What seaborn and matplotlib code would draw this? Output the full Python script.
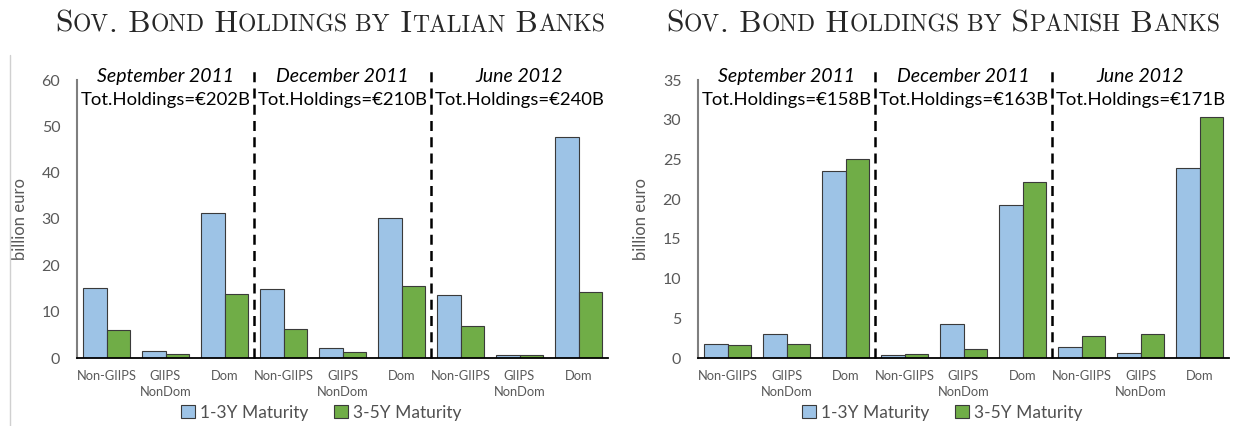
import pandas as pd
import matplotlib.pyplot as plt
import seaborn as sns
from matplotlib.offsetbox import TextArea, HPacker, AnnotationBbox
from matplotlib.patches import Patch
from matplotlib.lines import Line2D

# === DATOS ===
periods = ['September 2011', 'December 2011', 'June 2012']
sectors = ['Non-GIIPS', 'GIIPS\nNonDom', 'Dom']
maturities = ['1-3Y Maturity', '3-5Y Maturity']

italy_short = [15.1, 1.5, 31.4, 14.9, 2.2, 30.3, 13.5, 0.65, 47.7]
italy_long = [6.1, 0.9, 13.8, 6.3, 1.4, 15.5, 6.9, 0.6, 14.2]
italy_totals = ['€202B', '€210B', '€240B']

spain_short = [1.75, 3.0, 23.5, 0.37, 4.33, 19.25, 1.4, 0.62, 23.9]
spain_long = [1.6, 1.7, 25.1, 0.5, 1.08, 22.2, 2.8, 3.0, 30.3]
spain_totals = ['€158B', '€163B', '€171B']

blue = '#9DC3E6'
green = '#70AD47'
gray_txt = '#595959'

sns.set_style('white')
plt.rcParams['font.family'] = ['Lato', 'DejaVu Sans']


def small_caps(fig, x, y, text, big=22.7, small=17.0):
    # texto en versalitas: mayusculas grandes, minusculas en mayuscula pequeña
    sizes = []
    for i, ch in enumerate(text):
        if ch == ' ':
            nxt = text[i + 1] if i + 1 < len(text) else 'A'
            sizes.append(small if nxt.islower() else big)
        else:
            sizes.append(small if ch.islower() else big)
    boxes = []
    run, cur = '', None
    for ch, sz in zip(text, sizes):
        if run and sz != cur:
            boxes.append(TextArea(run.upper(), textprops=dict(fontsize=cur, family='cmr10')))
            run = ''
        run += ch
        cur = sz
    boxes.append(TextArea(run.upper(), textprops=dict(fontsize=cur, family='cmr10')))
    pack = HPacker(children=boxes, align='baseline', pad=0, sep=0)
    ab = AnnotationBbox(pack, (x, y), xycoords='figure fraction', frameon=False,
                        box_alignment=(0.5, 0.5), pad=0)
    fig.add_artist(ab)


def panel(ax, short, long, totals, ymax, ystep):
    slots = [f'{p}|{s}' for p in periods for s in sectors]
    df = pd.DataFrame({
        'slot': slots * 2,
        'maturity': [maturities[0]] * 9 + [maturities[1]] * 9,
        'value': short + long,
    })
    sns.barplot(data=df, x='slot', y='value', hue='maturity', order=slots,
                hue_order=maturities, palette=[blue, green], width=0.78,
                edgecolor='#3a3a3a', linewidth=0.8, saturation=1, ax=ax, legend=False)
    ax.set_xlim(-0.5, 8.5)
    ax.set_ylim(0, ymax)
    ax.set_yticks(range(0, ymax + 1, ystep))
    ax.set_xticks(range(9))
    ax.set_xticklabels(sectors * 3, fontsize=9.3, color=gray_txt, linespacing=1.3)
    ax.tick_params(axis='y', labelsize=11.5, colors=gray_txt, length=0, pad=12)
    ax.tick_params(axis='x', length=0, pad=9)
    ax.set_xlabel('')
    ax.set_ylabel('billion euro', fontsize=12, color=gray_txt, labelpad=10)
    for sp in ['top', 'right']:
        ax.spines[sp].set_visible(False)
    ax.spines['left'].set_color('#7f7f7f')
    ax.spines['left'].set_linewidth(1.5)
    ax.spines['bottom'].set_color('black')
    ax.spines['bottom'].set_linewidth(1.3)
    tr = ax.get_xaxis_transform()
    for xb in [2.5, 5.5]:
        ax.plot([xb, xb], [0, 1.04], transform=tr, color='black', lw=1.8,
                ls=(0, (4, 2.5)), clip_on=False, zorder=5)
    for i, p in enumerate(periods):
        ax.text(3 * i + 1, 1.014, p, transform=tr, ha='center', va='center',
                fontsize=14, style='italic', color='black')
        ax.text(3 * i + 1, 0.928, 'Tot.Holdings=' + totals[i], transform=tr,
                ha='center', va='center', fontsize=13.3, color='black')
    handles = [Patch(facecolor=blue, edgecolor='#3a3a3a', lw=0.8),
               Patch(facecolor=green, edgecolor='#3a3a3a', lw=0.8)]
    ax.legend(handles, maturities, loc='center', bbox_to_anchor=(0.46, -0.197),
              ncol=2, frameon=False, fontsize=12.5, handlelength=0.8, handleheight=0.8,
              handletextpad=0.3, columnspacing=1.5, labelcolor='#505050')


fig = plt.figure(figsize=(12.39, 4.26), dpi=100)
W, H = 1239, 426
ax1 = fig.add_axes([77 / W, 1 - 358 / H, 531 / W, 278 / H])
ax2 = fig.add_axes([698 / W, 1 - 358 / H, 531 / W, 278 / H])

panel(ax1, italy_short, italy_long, italy_totals, 60, 10)
panel(ax2, spain_short, spain_long, spain_totals, 35, 5)

small_caps(fig, 330 / W, 1 - 24 / H, 'Sov. Bond Holdings by Italian Banks')
small_caps(fig, 943 / W, 1 - 24 / H, 'Sov. Bond Holdings by Spanish Banks')

# linea gris fina del borde izquierdo
fig.add_artist(Line2D([10 / W, 10 / W], [0, 1 - 55 / H], color='#d0d0d0', lw=1))

fig.savefig('out.png', dpi=100)
